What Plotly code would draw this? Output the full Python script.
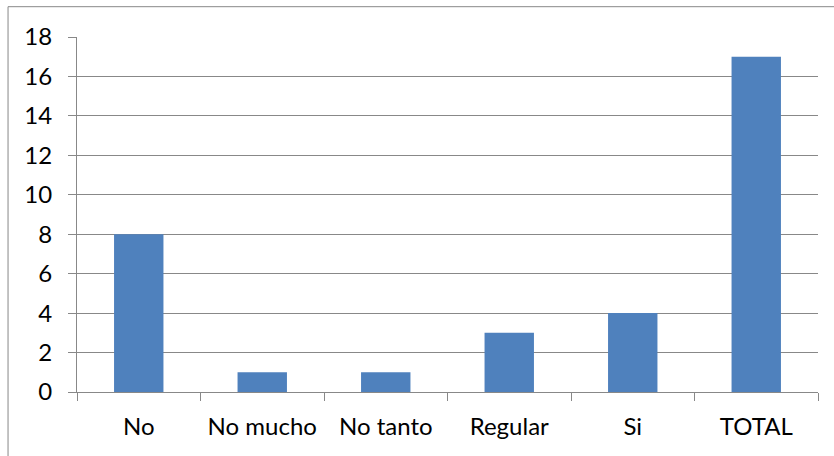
import plotly.graph_objects as go

# Responses and their counts
categories = ["No", "No mucho", "No tanto", "Regular", "Si", "TOTAL"]
counts = [8, 1, 1, 3, 4, 17]
y_ticks = [0, 2, 4, 6, 8, 10, 12, 14, 16, 18]

W, H = 834, 456
L, R, T, B = 77, 15.5, 37.3, 63.7
plot_w = W - L - R
plot_h = H - T - B

axis_grey = "#888888"
font_family = "Lato, 'Open Sans', sans-serif"

fig = go.Figure(
    go.Bar(
        x=categories,
        y=counts,
        marker=dict(color="#4F81BD", line=dict(width=0)),
    )
)

fig.update_layout(
    width=W,
    height=H,
    margin=dict(l=L, r=R, t=T, b=B, pad=0),
    paper_bgcolor="white",
    plot_bgcolor="white",
    bargap=0.6,
    showlegend=False,
    font=dict(family=font_family, size=24, color="black"),
)

fig.update_xaxes(
    showgrid=False,
    showline=True,
    linecolor=axis_grey,
    linewidth=1,
    ticks="outside",
    tickson="boundaries",
    ticklen=8,
    tickcolor=axis_grey,
    tickfont=dict(size=24),
    ticklabelstandoff=13,
)

fig.update_yaxes(
    range=[0, 18],
    tickvals=y_ticks,
    showgrid=True,
    gridcolor=axis_grey,
    gridwidth=1,
    showline=True,
    linecolor=axis_grey,
    linewidth=1,
    ticks="outside",
    ticklen=8,
    tickcolor=axis_grey,
    tickfont=dict(size=24),
    ticklabelstandoff=11,
    zeroline=False,
)

# Outer chart frame
fig.add_shape(
    type="rect",
    xref="paper",
    yref="paper",
    x0=(8 - L) / plot_w,
    x1=(W + 10 - L) / plot_w,
    y0=-(H + 10 - (H - B)) / plot_h,
    y1=(H - B - 7) / plot_h,
    line=dict(color=axis_grey, width=1),
    fillcolor="rgba(0,0,0,0)",
    layer="below",
)

fig.write_html("out.html")
